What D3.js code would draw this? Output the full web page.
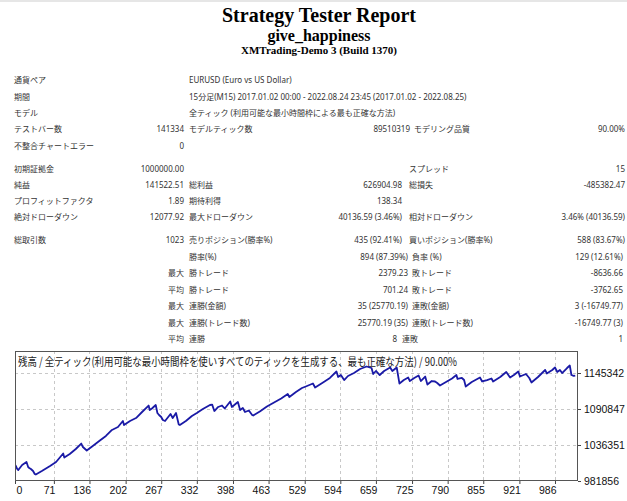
<!DOCTYPE html>
<html><head><meta charset="utf-8">
<script src="https://cdn.jsdelivr.net/npm/d3@7"></script>
<style>html,body{margin:0;padding:0;background:#fff;} svg{display:block}</style>
</head><body><svg id="c" width="627" height="501"></svg>
<script>
// ---------- DATA ----------
const reportTitle = "Strategy Tester Report";
const expertName = "give_happiness";
const serverName = "XMTrading-Demo 3 (Build 1370)";

const summaryRows = [
  ["通貨ペア", "", "EURUSD (Euro vs US Dollar)", "", "", ""],
  ["期間", "", "15分足(M15) 2017.01.02 00:00 - 2022.08.24 23:45 (2017.01.02 - 2022.08.25)", "", "", ""],
  ["モデル", "", "全ティック (利用可能な最小時間枠による最も正確な方法)", "", "", ""],
  ["テストバー数", "141334", "モデルティック数", "89510319", "モデリング品質", "90.00%"],
  ["不整合チャートエラー", "0", "", "", "", ""],
  ["初期証拠金", "1000000.00", "", "", "スプレッド", "15"],
  ["純益", "141522.51", "総利益", "626904.98", "総損失", "-485382.47"],
  ["プロフィットファクタ", "1.89", "期待利得", "138.34", "", ""],
  ["絶対ドローダウン", "12077.92", "最大ドローダウン", "40136.59 (3.46%)", "相対ドローダウン", "3.46% (40136.59)"],
  ["総取引数", "1023", "売りポジション(勝率%)", "435 (92.41%)", "買いポジション(勝率%)", "588 (83.67%)"],
  ["", "", "勝率(%)", "894 (87.39%)", "負率 (%)", "129 (12.61%)"],
  ["", "最大", "勝トレード", "2379.23", "敗トレード", "-8636.66"],
  ["", "平均", "勝トレード", "701.24", "敗トレード", "-3762.65"],
  ["", "最大", "連勝(金額)", "35 (25770.19)", "連敗(金額)", "3 (-16749.77)"],
  ["", "最大", "連勝(トレード数)", "25770.19 (35)", "連敗(トレード数)", "-16749.77 (3)"],
  ["", "平均", "連勝", "8", "連敗", "1"]
];

const chartCaption = "残高 / 全ティック(利用可能な最小時間枠を使いすべてのティックを生成する、最も正確な方法) / 90.00%";

const xTickLabels = [0, 71, 136, 202, 267, 332, 398, 463, 529, 594, 659, 725, 790, 855, 921, 986];
const yTickLabels = [981856, 1036351, 1090847, 1145342];

const tradeIndex = [0,1,4,6,13,21,24,26,29,33,36,38,49,64,75,88,90,100,111,121,124,131,142,155,166,177,188,197,199,210,221,232,244,246,250,257,260,263,267,270,274,284,288,294,299,301,312,323,332,343,356,360,364,371,378,383,393,396,407,411,416,420,427,433,435,447,460,473,486,498,501,513,524,531,544,548,561,575,587,590,595,601,608,619,630,642,651,654,659,666,674,685,689,697,702,710,718,721,729,737,741,749,753,761,767,771,776,787,798,806,808,816,820,823,834,849,853,862,870,873,886,897,904,911,919,922,933,939,943,955,968,971,981,986,990,995,999,1008,1013,1016,1020,1023];
const balance = [1000000,1005300,1000100,998500,1006100,1010600,1003000,1001500,1000000,997000,992500,991700,997000,1004600,1010600,1023500,1017400,1022700,1030300,1038600,1033300,1028000,1034800,1043200,1050000,1059100,1063600,1072700,1066600,1072700,1077200,1086300,1096100,1089300,1091600,1096900,1084800,1081800,1078700,1074200,1072700,1083300,1077200,1084800,1067400,1066600,1072700,1080300,1084800,1090800,1096900,1097500,1087800,1093900,1096100,1091600,1102200,1093900,1101400,1089300,1092400,1086300,1088600,1081800,1081000,1087100,1094600,1100700,1106700,1113600,1109000,1116600,1122600,1124900,1129400,1123400,1130200,1137800,1147600,1139300,1142300,1134700,1140800,1145300,1151400,1155200,1152900,1143800,1148400,1142300,1148400,1153700,1148400,1153700,1129400,1134700,1138500,1133200,1137800,1141600,1133200,1140000,1127900,1133200,1132500,1130200,1126400,1131700,1137000,1142300,1136300,1137800,1134700,1124900,1131700,1138500,1132500,1134700,1137000,1132500,1139300,1146900,1138500,1142300,1147600,1140000,1143800,1137800,1131000,1139300,1149900,1144600,1149900,1153700,1146900,1149900,1145300,1152900,1156700,1142300,1141000,1141500];

// ---------- DRAW ----------
const svg = d3.select("#c");
const TXT = "#333";
const uiFont = "'Noto Sans','Noto Sans CJK JP',sans-serif";
const cjkFont = "'Noto Sans CJK JP','Noto Sans',sans-serif";

svg.append("rect").attr("x",0).attr("y",0).attr("width",627).attr("height",2).attr("fill","#e6e6e6");

// header
const hdr = [
  {t: reportTitle, y: 21.5, s: 20},
  {t: expertName, y: 40.5, s: 16},
  {t: serverName, y: 54, s: 11}
];
svg.selectAll("text.hdr").data(hdr).join("text").attr("class","hdr")
  .attr("x", 319).attr("y", d => d.y).attr("text-anchor","middle")
  .attr("font-family","'Liberation Serif','Times New Roman',serif")
  .attr("font-weight","bold").attr("font-size", d => d.s).attr("fill","#000")
  .text(d => d.t);

// table
const rowY = [80, 96.5, 113, 129, 145.5, 168.5, 185, 201, 217, 240, 257, 273, 289.5, 306, 322.5, 339];
const baseCols = [{x:14,a:"start"},{x:184,a:"end"},{x:189,a:"start"},{x:402,a:"end"},{x:409,a:"start"},{x:625,a:"end"}];
function colsFor(i){
  const c = baseCols.map(o => Object.assign({}, o));
  if (i === 3) { c[3].x = 410; c[4].x = 414; }
  if (i >= 10 && i <= 14) { c[3].x = 408; c[4].x = 412; c[5].x = 623; }
  if (i === 15) { c[3].x = 397; c[4].x = 402; c[5].x = 623; }
  return c;
}
const cells = [];
summaryRows.forEach((row, i) => {
  const cols = colsFor(i);
  row.forEach((t, j) => { if (t) cells.push({t, x: cols[j].x, a: cols[j].a, y: rowY[i] + 3}); });
});
svg.selectAll("text.cell").data(cells).join("text").attr("class","cell")
  .attr("x", d => d.x).attr("y", d => d.y).attr("text-anchor", d => d.a)
  .attr("font-family", uiFont).attr("font-size", 8).attr("fill", TXT)
  .text(d => d.t);

// chart
const L = 15, R = 578, T = 351, B = 481;
const x = d3.scaleLinear().domain([0, 1028]).range([L, R]);
const y = d3.scaleLinear().domain([981856, 1178645]).range([B, T]);

// grid
const g = svg.append("g");
g.selectAll("line.vg").data(xTickLabels.slice(1)).join("line").attr("class","vg")
  .attr("x1", d => Math.round(x(d)) + 0.5).attr("x2", d => Math.round(x(d)) + 0.5)
  .attr("y1", T).attr("y2", B)
  .attr("stroke","#c8c8c8").attr("stroke-dasharray","3,3").attr("stroke-width",1);
g.selectAll("line.hg").data(yTickLabels.slice(1)).join("line").attr("class","hg")
  .attr("x1", L).attr("x2", R)
  .attr("y1", d => Math.round(y(d)) + 0.5).attr("y2", d => Math.round(y(d)) + 0.5)
  .attr("stroke","#c8c8c8").attr("stroke-dasharray","3,3").attr("stroke-width",1);

// caption
svg.append("text").attr("x", 18).attr("y", 366)
  .attr("font-family", cjkFont).attr("font-size", 11.5).attr("fill","#222")
  .attr("textLength", 439).attr("lengthAdjust","spacingAndGlyphs")
  .text(chartCaption);

// line
svg.append("clipPath").attr("id","clip").append("rect")
  .attr("x", L).attr("y", T).attr("width", R - L).attr("height", B - T);
const pts = tradeIndex.map((t, i) => [t, balance[i]]);
svg.append("path").datum(pts)
  .attr("clip-path","url(#clip)")
  .attr("fill","none").attr("stroke","#1a1aa6").attr("stroke-width",1.8)
  .attr("stroke-linejoin","round")
  .attr("d", d3.line().x(d => x(d[0])).y(d => y(d[1])));

// frame
svg.append("rect").attr("x", L + 0.5).attr("y", T + 0.5).attr("width", R - L - 1).attr("height", B - T - 1)
  .attr("fill","none").attr("stroke","#555").attr("stroke-width",1);

// axes
const axFont = "'Liberation Sans',Arial,sans-serif";
const xAxis = svg.append("g").attr("transform", `translate(0,${B})`)
  .call(d3.axisBottom(x).tickValues(xTickLabels).tickSize(3).tickPadding(3).tickFormat(d3.format("d")));
xAxis.select(".domain").remove();
xAxis.selectAll("line").attr("stroke","#444");
xAxis.selectAll("text").attr("font-family", axFont).attr("font-size", 10.5).attr("fill","#111")
  .attr("text-anchor", (d, i) => i === 0 ? "start" : "end")
  .attr("dx", 1);

const yAxis = svg.append("g").attr("transform", `translate(${R},0)`)
  .call(d3.axisRight(y).tickValues(yTickLabels).tickSize(3).tickPadding(3).tickFormat(d3.format("d")));
yAxis.select(".domain").remove();
yAxis.selectAll("line").attr("stroke","#444");
yAxis.selectAll("text").attr("font-family", axFont).attr("font-size", 10.5).attr("fill","#111");
</script></body></html>
